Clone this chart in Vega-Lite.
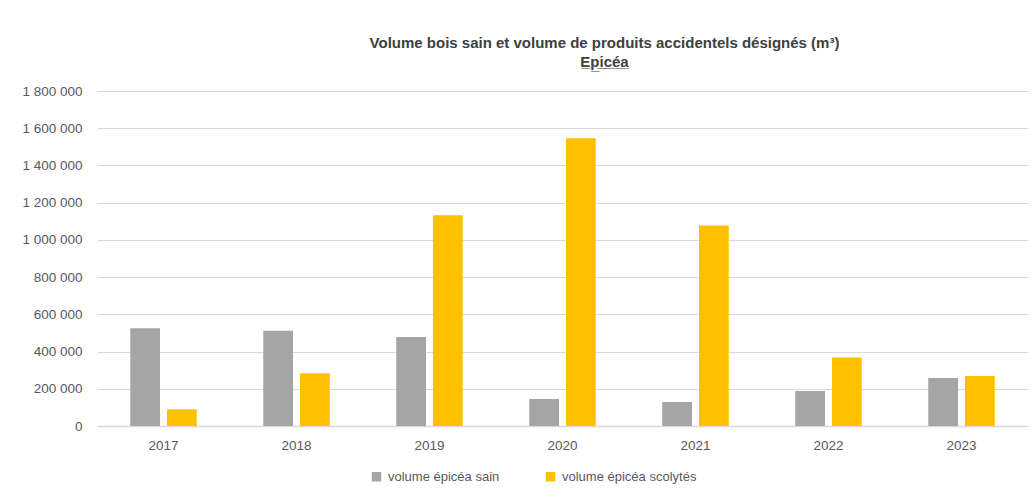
{
  "$schema": "https://vega.github.io/schema/vega-lite/v6.json",
  "width": 931,
  "height": 335,
  "autosize": {"type": "none"},
  "padding": {"left": 97, "top": 91, "right": 5, "bottom": 75},
  "background": "white",
  "config": {
    "locale": {"number": {"decimal": ",", "thousands": "\u00a0", "grouping": [3], "currency": ["", " €"]}},
    "view": {"stroke": null},
    "font": "Liberation Sans"
  },
  "title": {
    "text": "Volume bois sain et volume de produits accidentels désignés (m³)",
    "subtitle": "E̲p̲i̲c̲é̲a̲",
    "anchor": "middle",
    "dx": 42,
    "offset": 14,
    "font": "Liberation Sans",
    "fontSize": 15,
    "fontWeight": "bold",
    "color": "#404040",
    "subtitleFont": "Liberation Sans",
    "subtitleFontSize": 15,
    "subtitleFontWeight": "bold",
    "subtitleColor": "#404040",
    "subtitlePadding": 4
  },
  "data": {
    "values": [
      {"annee": "2017", "serie": "volume épicéa sain", "volume": 525000},
      {"annee": "2017", "serie": "volume épicéa scolytés", "volume": 90000},
      {"annee": "2018", "serie": "volume épicéa sain", "volume": 512000},
      {"annee": "2018", "serie": "volume épicéa scolytés", "volume": 283000},
      {"annee": "2019", "serie": "volume épicéa sain", "volume": 478000},
      {"annee": "2019", "serie": "volume épicéa scolytés", "volume": 1132000},
      {"annee": "2020", "serie": "volume épicéa sain", "volume": 145000},
      {"annee": "2020", "serie": "volume épicéa scolytés", "volume": 1546000},
      {"annee": "2021", "serie": "volume épicéa sain", "volume": 129000},
      {"annee": "2021", "serie": "volume épicéa scolytés", "volume": 1077000},
      {"annee": "2022", "serie": "volume épicéa sain", "volume": 188000},
      {"annee": "2022", "serie": "volume épicéa scolytés", "volume": 368000},
      {"annee": "2023", "serie": "volume épicéa sain", "volume": 258000},
      {"annee": "2023", "serie": "volume épicéa scolytés", "volume": 269000}
    ]
  },
  "mark": {"type": "bar"},
  "encoding": {
    "x": {
      "field": "annee",
      "type": "nominal",
      "scale": {"paddingInner": 0.5, "paddingOuter": 0.25},
      "axis": {
        "title": null,
        "labelAngle": 0,
        "ticks": false,
        "domainColor": "#d9d9d9",
        "domainWidth": 1.5,
        "labelColor": "#595959",
        "labelFontSize": 13.5,
        "labelPadding": 12
      }
    },
    "xOffset": {
      "field": "serie",
      "type": "nominal",
      "scale": {"paddingInner": 0.19, "paddingOuter": 0}
    },
    "y": {
      "field": "volume",
      "type": "quantitative",
      "scale": {"domain": [0, 1800000]},
      "axis": {
        "title": null,
        "values": [0, 200000, 400000, 600000, 800000, 1000000, 1200000, 1400000, 1600000, 1800000],
        "format": ",.0f",
        "domain": false,
        "ticks": false,
        "gridColor": "#d9d9d9",
        "gridWidth": 1.2,
        "labelColor": "#595959",
        "labelFontSize": 13.5,
        "labelPadding": 15
      }
    },
    "color": {
      "field": "serie",
      "type": "nominal",
      "scale": {"domain": ["volume épicéa sain", "volume épicéa scolytés"], "range": ["#a5a5a5", "#ffc000"]},
      "legend": {
        "title": null,
        "orient": "none",
        "direction": "horizontal",
        "legendX": 273,
        "legendY": 379,
        "symbolType": "square",
        "symbolSize": 90,
        "symbolStrokeWidth": 0,
        "labelColor": "#595959",
        "labelFontSize": 13,
        "columnPadding": 44,
        "labelOffset": 5
      }
    }
  }
}
